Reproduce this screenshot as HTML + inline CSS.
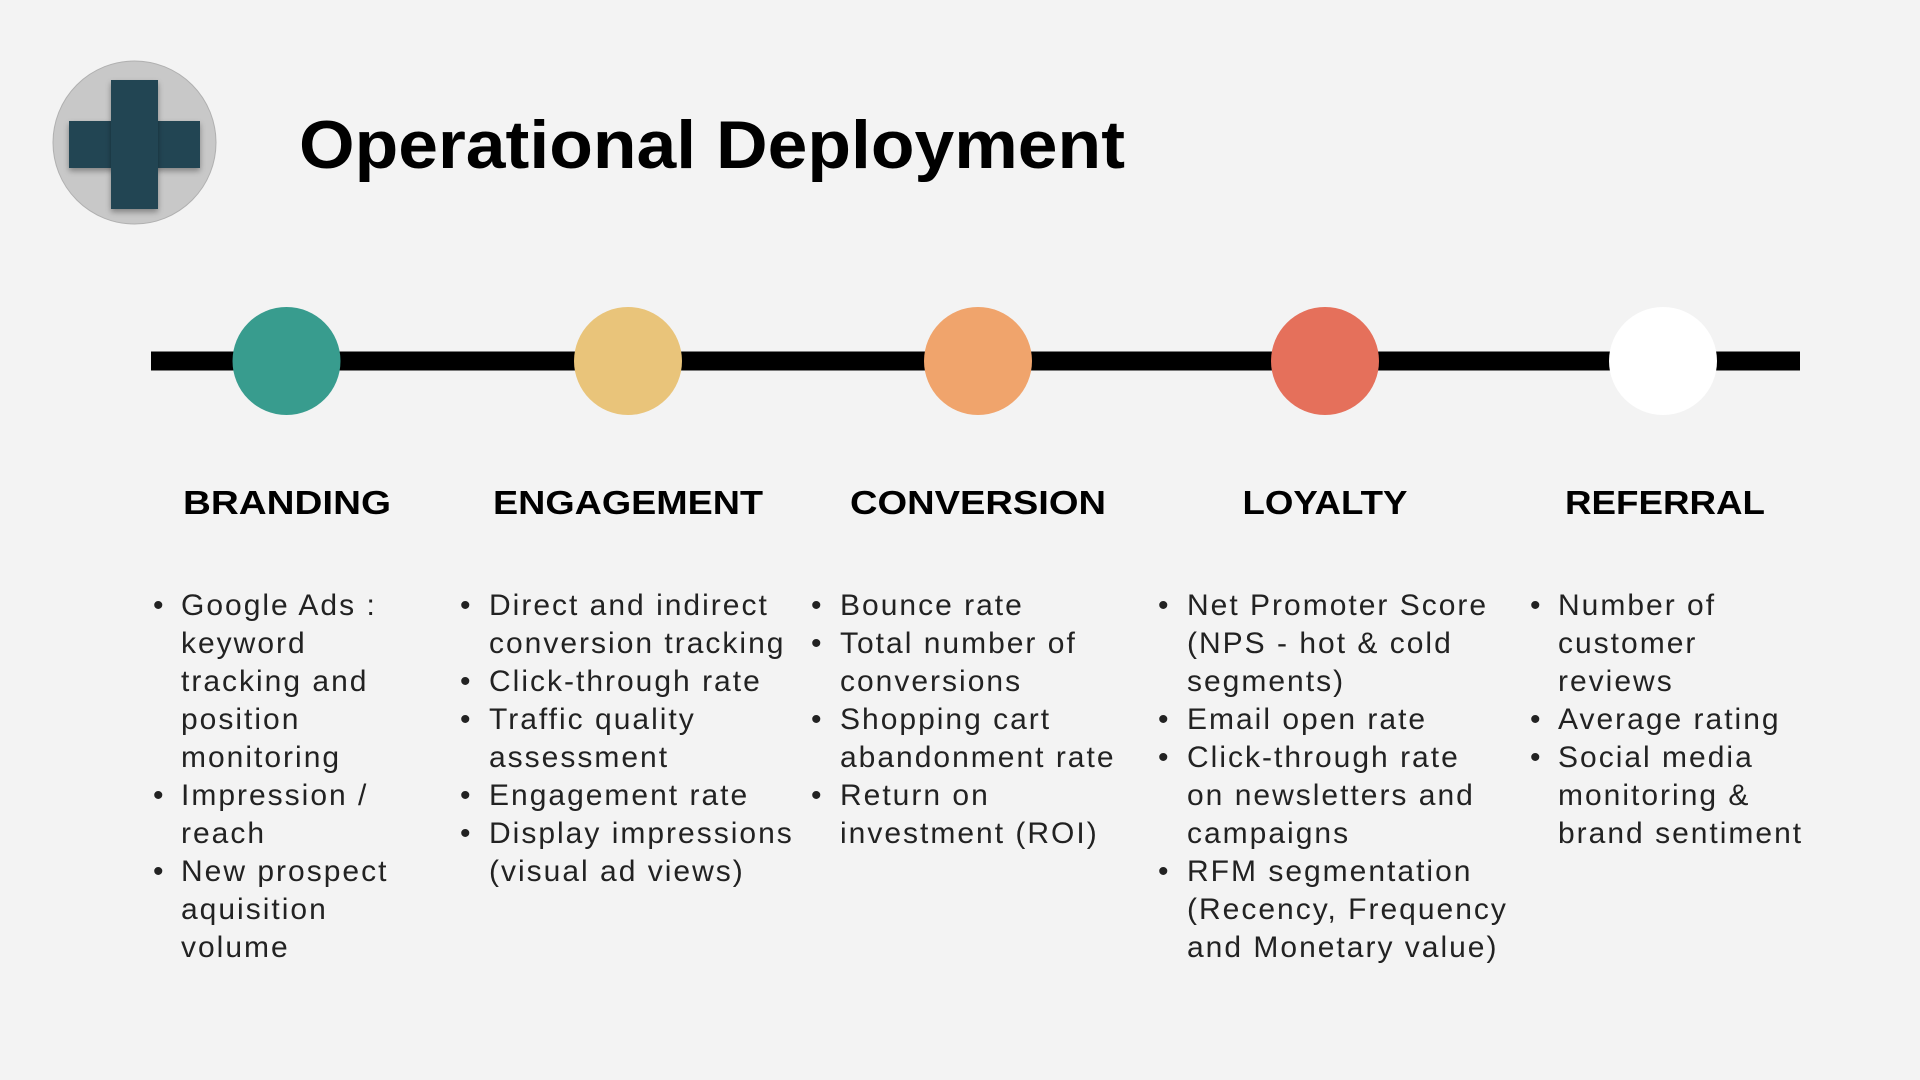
<!DOCTYPE html>
<html><head><meta charset="utf-8"><style>
html,body{margin:0;padding:0;background:#f3f3f3;}
svg{display:block;}
.h{font-family:"Liberation Sans",sans-serif;font-weight:bold;font-size:33px;fill:#000;text-anchor:middle;}
.t{font-family:"Liberation Sans",sans-serif;font-size:30px;fill:#222;letter-spacing:2px;}
</style></head><body>
<svg width="1920" height="1080" viewBox="0 0 1920 1080" xmlns="http://www.w3.org/2000/svg">
<defs><filter id="sh" x="-20%" y="-20%" width="140%" height="140%"><feDropShadow dx="0" dy="3" stdDeviation="3" flood-opacity="0.35"/></filter></defs>
<rect width="1920" height="1080" fill="#f3f3f3"/>
<circle cx="134.5" cy="142.5" r="81.5" fill="#c8c8c8" stroke="#b0b0b0" stroke-width="1"/>
<rect x="69" y="121" width="131" height="47" fill="#244453" filter="url(#sh)"/>
<rect x="111" y="80" width="47" height="129" fill="#244453" filter="url(#sh)"/>
<text x="299" y="168" font-family="Liberation Sans,sans-serif" font-weight="bold" font-size="68" textLength="826" lengthAdjust="spacingAndGlyphs" fill="#000">Operational Deployment</text>
<rect x="151" y="351.5" width="1649" height="19" fill="#000"/>
<circle cx="286.5" cy="361" r="54" fill="#389C8E"/>
<circle cx="628" cy="361" r="54" fill="#E9C47A"/>
<circle cx="978" cy="361" r="54" fill="#F0A46C"/>
<circle cx="1325" cy="361" r="54" fill="#E5705B"/>
<circle cx="1663" cy="361" r="54" fill="#FFFFFF"/>
<text class="h" x="287" y="514" textLength="208" lengthAdjust="spacingAndGlyphs">BRANDING</text>
<text class="h" x="628" y="514" textLength="270" lengthAdjust="spacingAndGlyphs">ENGAGEMENT</text>
<text class="h" x="978" y="514" textLength="256" lengthAdjust="spacingAndGlyphs">CONVERSION</text>
<text class="h" x="1325" y="514" textLength="165" lengthAdjust="spacingAndGlyphs">LOYALTY</text>
<text class="h" x="1665" y="514" textLength="200" lengthAdjust="spacingAndGlyphs">REFERRAL</text>
<g class="t">
<text x="153" y="615">•</text><text x="181" y="615">Google Ads :</text>
<text x="181" y="653">keyword</text>
<text x="181" y="691">tracking and</text>
<text x="181" y="729">position</text>
<text x="181" y="767">monitoring</text>
<text x="153" y="805">•</text><text x="181" y="805">Impression /</text>
<text x="181" y="843">reach</text>
<text x="153" y="881">•</text><text x="181" y="881">New prospect</text>
<text x="181" y="919">aquisition</text>
<text x="181" y="957">volume</text>
<text x="460" y="615">•</text><text x="489" y="615">Direct and indirect</text>
<text x="489" y="653">conversion tracking</text>
<text x="460" y="691">•</text><text x="489" y="691">Click-through rate</text>
<text x="460" y="729">•</text><text x="489" y="729">Traffic quality</text>
<text x="489" y="767">assessment</text>
<text x="460" y="805">•</text><text x="489" y="805">Engagement rate</text>
<text x="460" y="843">•</text><text x="489" y="843">Display impressions</text>
<text x="489" y="881">(visual ad views)</text>
<text x="811" y="615">•</text><text x="840" y="615">Bounce rate</text>
<text x="811" y="653">•</text><text x="840" y="653">Total number of</text>
<text x="840" y="691">conversions</text>
<text x="811" y="729">•</text><text x="840" y="729">Shopping cart</text>
<text x="840" y="767">abandonment rate</text>
<text x="811" y="805">•</text><text x="840" y="805">Return on</text>
<text x="840" y="843">investment (ROI)</text>
<text x="1158" y="615">•</text><text x="1187" y="615">Net Promoter Score</text>
<text x="1187" y="653">(NPS - hot &amp; cold</text>
<text x="1187" y="691">segments)</text>
<text x="1158" y="729">•</text><text x="1187" y="729">Email open rate</text>
<text x="1158" y="767">•</text><text x="1187" y="767">Click-through rate</text>
<text x="1187" y="805">on newsletters and</text>
<text x="1187" y="843">campaigns</text>
<text x="1158" y="881">•</text><text x="1187" y="881">RFM segmentation</text>
<text x="1187" y="919">(Recency, Frequency</text>
<text x="1187" y="957">and Monetary value)</text>
<text x="1530" y="615">•</text><text x="1558" y="615">Number of</text>
<text x="1558" y="653">customer</text>
<text x="1558" y="691">reviews</text>
<text x="1530" y="729">•</text><text x="1558" y="729">Average rating</text>
<text x="1530" y="767">•</text><text x="1558" y="767">Social media</text>
<text x="1558" y="805">monitoring &amp;</text>
<text x="1558" y="843">brand sentiment</text>
</g>
</svg>
</body></html>
